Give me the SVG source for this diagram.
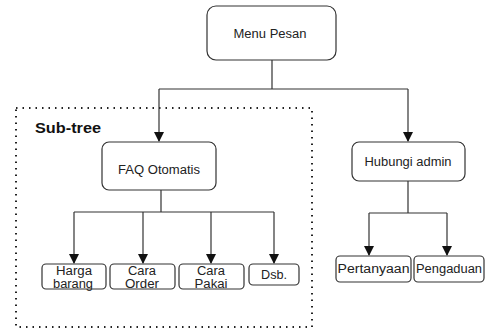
<svg xmlns="http://www.w3.org/2000/svg" width="485" height="328" viewBox="0 0 485 328">
<defs>
<marker id="arr" viewBox="0 0 10 10" refX="9" refY="5" markerWidth="10" markerHeight="10" markerUnits="userSpaceOnUse" orient="auto">
<path d="M0,0 L10,5 L0,10 Z" fill="#111"/>
</marker>
</defs>
<style>
.box{fill:#fff;stroke:#333;stroke-width:1.2}
.t{font-family:"Liberation Sans",Arial,sans-serif;font-size:12.5px;fill:#222;text-anchor:middle}
.ln{fill:none;stroke:#333;stroke-width:1.2}
.ar{fill:none;stroke:#333;stroke-width:1.2;marker-end:url(#arr)}
</style>
<rect width="485" height="328" fill="#fff"/>
<g id="subtree">
<rect x="16" y="108" width="296" height="219" fill="none" stroke="#222" stroke-width="2" stroke-dasharray="1.5 5"/>
<text x="35" y="133" font-family="'Liberation Sans',Arial,sans-serif" font-size="14" font-weight="bold" fill="#111" textLength="66" lengthAdjust="spacingAndGlyphs">Sub-tree</text>
</g>
<g id="connectors">
<path class="ln" d="M272,60 V89 M159,89 H408"/>
<path class="ar" d="M159,89 V141"/>
<path class="ar" d="M408,89 V141"/>
<path class="ln" d="M161,190 V212 M74,212 H274"/>
<path class="ar" d="M74,212 V263"/>
<path class="ar" d="M143,212 V263"/>
<path class="ar" d="M211,212 V263"/>
<path class="ar" d="M274,212 V263"/>
<path class="ln" d="M408,181 V213 M369,213 H447"/>
<path class="ar" d="M369,213 V255"/>
<path class="ar" d="M447,213 V255"/>
</g>
<g id="menu-pesan">
<rect class="box" x="207" y="6" width="129" height="54" rx="9"/>
<text class="t" x="270" y="38" textLength="73" lengthAdjust="spacingAndGlyphs">Menu Pesan</text>
</g>
<g id="faq-otomatis">
<rect class="box" x="102" y="142" width="114" height="48" rx="7"/>
<text class="t" x="159" y="174" textLength="82" lengthAdjust="spacingAndGlyphs">FAQ Otomatis</text>
</g>
<g id="hubungi-admin">
<rect class="box" x="352" y="142" width="113" height="39" rx="7"/>
<text class="t" x="408" y="166" textLength="87" lengthAdjust="spacingAndGlyphs">Hubungi admin</text>
</g>
<g id="harga-barang">
<rect class="box" x="42" y="264" width="64" height="25" rx="4"/>
<text class="t" x="74" y="275" textLength="36" lengthAdjust="spacingAndGlyphs">Harga</text>
<text class="t" x="73" y="287.5" textLength="40" lengthAdjust="spacingAndGlyphs">barang</text>
</g>
<g id="cara-order">
<rect class="box" x="110" y="264" width="65" height="25" rx="4"/>
<text class="t" x="142" y="275" textLength="28" lengthAdjust="spacingAndGlyphs">Cara</text>
<text class="t" x="142" y="287.5" textLength="34" lengthAdjust="spacingAndGlyphs">Order</text>
</g>
<g id="cara-pakai">
<rect class="box" x="179" y="264" width="65" height="25" rx="4"/>
<text class="t" x="211" y="275" textLength="28" lengthAdjust="spacingAndGlyphs">Cara</text>
<text class="t" x="211" y="287.5" textLength="33" lengthAdjust="spacingAndGlyphs">Pakai</text>
</g>
<g id="dsb">
<rect class="box" x="249" y="264" width="50" height="21" rx="4"/>
<text class="t" x="274" y="279" textLength="26" lengthAdjust="spacingAndGlyphs">Dsb.</text>
</g>
<g id="pertanyaan">
<rect class="box" x="336" y="256" width="75" height="26" rx="4"/>
<text class="t" x="373.5" y="273" textLength="72" lengthAdjust="spacingAndGlyphs">Pertanyaan</text>
</g>
<g id="pengaduan">
<rect class="box" x="414" y="256" width="70" height="26" rx="4"/>
<text class="t" x="449" y="273" textLength="66" lengthAdjust="spacingAndGlyphs">Pengaduan</text>
</g>
</svg>
